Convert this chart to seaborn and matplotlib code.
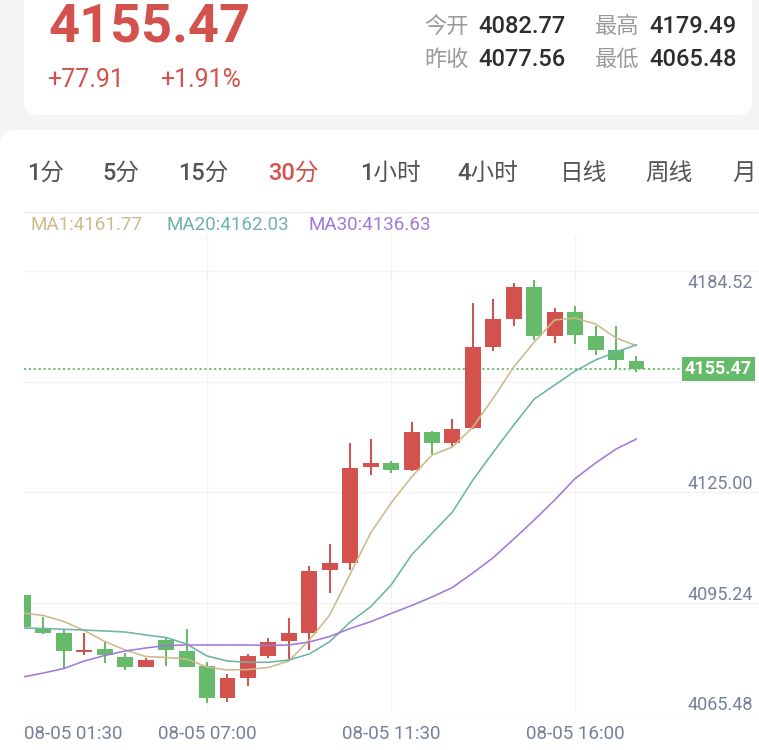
import numpy as np
import pandas as pd
import matplotlib
matplotlib.use('Agg')
import matplotlib.pyplot as plt
import seaborn as sns
from matplotlib.patches import FancyBboxPatch

# --- Data (30 min candles, 08-05) ---
OPEN = [4094.59, 4085.77, 4084.35, 4079.22, 4079.90, 4078.01, 4075.18, 4082.46, 4079.49, 4075.45,
        4066.83, 4072.14, 4078.23, 4082.19, 4084.48, 4101.32, 4103.13, 4129.16, 4130.16, 4128.27,
        4138.60, 4135.47, 4139.51, 4161.50, 4168.97, 4177.67, 4164.47, 4170.77, 4164.39, 4160.61, 4157.65]
HIGH = [4094.80, 4088.74, 4085.15, 4084.48, 4082.05, 4079.09, 4077.74, 4083.13, 4085.42, 4076.66,
        4073.30, 4078.60, 4083.13, 4088.31, 4102.27, 4108.25, 4135.47, 4136.55, 4130.70, 4141.29,
        4138.78, 4142.02, 4173.20, 4174.28, 4178.59, 4179.49, 4171.85, 4172.55, 4167.08, 4167.08, 4159.08]
LOW = [4085.69, 4084.08, 4074.91, 4078.42, 4076.13, 4074.37, 4075.05, 4075.45, 4075.05, 4065.48,
       4065.67, 4070.06, 4077.53, 4077.34, 4079.63, 4095.21, 4101.32, 4126.93, 4127.55, 4128.14,
       4132.59, 4134.74, 4139.46, 4160.34, 4167.16, 4163.31, 4162.42, 4162.23, 4159.27, 4155.49, 4154.60]
CLOSE = [4085.96, 4084.43, 4079.49, 4079.76, 4078.42, 4075.18, 4077.07, 4079.63, 4075.26, 4066.83,
         4072.14, 4078.15, 4082.00, 4084.43, 4101.05, 4103.34, 4128.89, 4130.24, 4128.27, 4138.60,
         4135.63, 4139.32, 4161.34, 4168.89, 4177.51, 4164.39, 4170.77, 4164.66, 4160.61, 4157.92, 4155.47]

MA1 = [4089.74, 4089.06, 4087.44, 4085.02, 4082.05, 4079.76, 4078.01, 4077.74, 4077.34, 4075.18,
       4074.37, 4074.51, 4075.05, 4076.80, 4082.46, 4089.20, 4100.25, 4111.30, 4119.38, 4126.39,
       4132.32, 4134.47, 4139.86, 4147.68, 4156.03, 4162.77, 4168.70, 4169.24, 4167.62, 4163.85, 4161.77]
MA20 = [4085.69, 4085.56, 4085.34, 4085.15, 4084.88, 4084.61, 4083.81, 4083.13, 4081.38, 4078.15,
        4076.80, 4076.45, 4076.45, 4077.07, 4078.69, 4082.00, 4087.31, 4091.43, 4097.28, 4105.37,
        4111.21, 4116.95, 4125.58, 4133.12, 4140.40, 4147.41, 4151.18, 4154.95, 4157.92, 4160.07, 4162.03]
MA30 = [4072.49, 4073.57, 4074.78, 4076.80, 4078.28, 4079.49, 4080.30, 4080.98, 4081.11, 4081.11,
        4081.11, 4081.11, 4080.98, 4081.11, 4081.92, 4083.40, 4085.56, 4087.39, 4089.60, 4091.76,
        4094.05, 4096.61, 4100.52, 4104.69, 4109.68, 4114.80, 4120.19, 4125.98, 4130.16, 4133.93, 4136.63]

TIME_LABELS = ['08-05 01:30', '08-05 07:00', '08-05 11:30', '08-05 16:00']
TIME_IDX = [-2, 9, 18, 27]
PRICE_TICKS = [4184.52, 4154.76, 4125.00, 4095.24, 4065.48]
LAST_PRICE = 4155.47

PRICE_TEXT = '4155.47'
CHANGE_TEXT = ['+77.91', '+1.91%']
STAT_NAMES = ['今开', '昨收', '最高', '最低']
STAT_VALUES = ['4082.77', '4077.56', '4179.49', '4065.48']
PERIODS = ['1分', '5分', '15分', '30分', '1小时', '4小时', '日线', '周线', '月']
ACTIVE_PERIOD = '30分'
MA_NAMES = ['MA1', 'MA20', 'MA30']

# --- Style ---
RED = '#D4524E'
GREEN = '#66BB6A'
MA_COLORS = {'MA1': '#CDBA8A', 'MA20': '#6DB4A6', 'MA30': '#A07AD8'}
AXIS_TXT = '#76809A'
GRID = '#F2F2F2'

sns.set_theme(style='white')
plt.rcParams['font.family'] = ['Roboto', 'Noto Sans CJK SC', 'DejaVu Sans']

W, H = 759, 750
PX = 0.72  # points per pixel at dpi 100

fig = plt.figure(figsize=(W / 100, H / 100), dpi=100)
fig.patch.set_facecolor('#F4F4F4')

# background layer in pixel coordinates
bg = fig.add_axes([0, 0, 1, 1])
bg.set_xlim(0, W)
bg.set_ylim(H, 0)
bg.axis('off')
bg.add_patch(FancyBboxPatch((24, -30), 728, 145, boxstyle='round,pad=0,rounding_size=14',
                            fc='white', ec='none'))
bg.add_patch(FancyBboxPatch((0, 130), 800, 680, boxstyle='round,pad=0,rounding_size=16',
                            fc='white', ec='none'))
bg.plot([24, W], [212, 212], color='#EFEFEF', lw=1)

# header
bg.text(48, 42, PRICE_TEXT, color=RED, fontsize=39, fontweight='bold', va='baseline')
bg.text(47, 87, CHANGE_TEXT[0], color=RED, fontsize=18, va='baseline')
bg.text(160, 87, CHANGE_TEXT[1], color=RED, fontsize=18, va='baseline')
for k, (name, val) in enumerate(zip(STAT_NAMES, STAT_VALUES)):
    x0 = 424 if k < 2 else 595
    yb = 33 if k % 2 == 0 else 66
    bg.text(x0, yb, name, color='#9A9A9A', fontsize=16, va='baseline')
    bg.text(x0 + 54, yb, val, color='#2E2E2E', fontsize=17, fontweight='medium', va='baseline')

tab_x = [27, 102, 178, 268, 360, 457, 560, 645, 732]
for x0, p in zip(tab_x, PERIODS):
    bg.text(x0, 180, p, fontsize=17, va='baseline', fontweight='medium',
            color=RED if p == ACTIVE_PERIOD else '#555555')

legend_x = [30, 166, 309]
for x0, name, vals in zip(legend_x, MA_NAMES, [MA1, MA20, MA30]):
    bg.text(x0, 230, f'{name}:{vals[-1]:.2f}', color=MA_COLORS[name], fontsize=13.5, va='baseline')

# --- main chart ---
ax = fig.add_axes([24 / W, 1 - 713 / H, (W - 24) / W, (713 - 235) / H])
ax.set_facecolor('none')
idx = np.arange(len(OPEN))
o, h, l, c = map(np.array, (OPEN, HIGH, LOW, CLOSE))
colors = np.where(c >= o, RED, GREEN)

ax.vlines(idx, l, h, colors=colors, lw=2 * PX, zorder=3)
ax.bar(idx, np.maximum(np.abs(c - o), 0.5), bottom=np.minimum(o, c), width=0.78,
       color=colors, lw=0, zorder=3)

ma_df = pd.DataFrame({
    'idx': np.tile(idx, 3),
    'value': MA1 + MA20 + MA30,
    'series': np.repeat(MA_NAMES, len(idx)),
})
sns.lineplot(data=ma_df, x='idx', y='value', hue='series', palette=MA_COLORS,
             linewidth=1.6 * PX, legend=False, ax=ax, estimator=None, sort=False, zorder=5)

x_lo, x_hi = 0.05, 35.99
y_lo, y_hi = 4062.785, 4191.61
ax.set_xlim(x_lo, x_hi)
ax.set_ylim(y_lo, y_hi)
ax.set_xticks([])
ax.set_yticks([])
ax.set_xlabel('')
ax.set_ylabel('')
for s in ax.spines.values():
    s.set_visible(False)

# grid (drawn a few px below the price labels, like the app does)
grid_shift = 2.695
for v in PRICE_TICKS:
    ax.axhline(v - grid_shift, color=GRID, lw=1, zorder=0)
for t in TIME_IDX:
    if x_lo <= t <= x_hi:
        ax.axvline(t, color=GRID, lw=1, zorder=0)

# price labels on the right (the one under the last-price tag is hidden)
for v in PRICE_TICKS:
    if abs(v - LAST_PRICE) < 5:
        continue
    dy = -20 if v == max(PRICE_TICKS) else 0
    ax.annotate(f'{v:.2f}', xy=(1, v), xycoords=('axes fraction', 'data'),
                xytext=(-6 * PX, dy * PX), textcoords='offset points',
                ha='right', va='center_baseline', color=AXIS_TXT, fontsize=13, zorder=4)

# time labels
for t, lab in zip(TIME_IDX, TIME_LABELS):
    x = t if t >= x_lo else x_lo
    ha = 'center' if t >= x_lo else 'left'
    ax.annotate(lab, xy=(x, 0), xycoords=('data', 'axes fraction'),
                xytext=(0, -19 * PX), textcoords='offset points',
                ha=ha, va='center_baseline', color=AXIS_TXT, fontsize=13.5,
                annotation_clip=False)

# last price line and tag
ax.axhline(LAST_PRICE, xmin=0, xmax=(683 - 24) / (W - 24), color=GREEN, lw=1.3,
           ls=(0, (1.2, 1.5)), zorder=2)
ax.annotate(f'{LAST_PRICE:.2f}', xy=(1, LAST_PRICE), xycoords=('axes fraction', 'data'),
            xytext=(-7 * PX, 0), textcoords='offset points', ha='right', va='center',
            color='white', fontsize=13, fontweight='bold', zorder=10,
            bbox=dict(boxstyle='square,pad=0.15', fc=GREEN, ec='none'))

plt.savefig('out.png', dpi=100, facecolor=fig.get_facecolor())
